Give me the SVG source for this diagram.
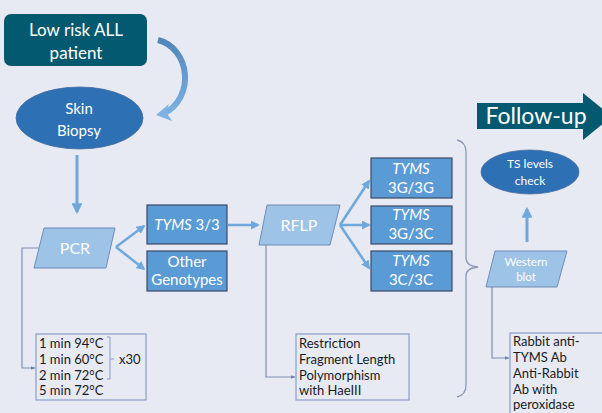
<svg xmlns="http://www.w3.org/2000/svg" width="602" height="413" viewBox="0 0 602 413">
<defs>
<marker id="ah" viewBox="0 0 10 10" refX="8" refY="5" markerWidth="3.6" markerHeight="3.6" orient="auto" markerUnits="strokeWidth"><path d="M0,0 L10,5 L0,10 z" fill="#6FA8DC"/></marker>
<marker id="ahs" viewBox="0 0 10 10" refX="9" refY="5" markerWidth="5" markerHeight="5" orient="auto" markerUnits="userSpaceOnUse"><path d="M0,1 L10,5 L0,9 z" fill="#6F82B0"/></marker>
<linearGradient id="cg" x1="0" y1="0" x2="0" y2="1"><stop offset="0" stop-color="#4F86BB"/><stop offset="1" stop-color="#7DB2E2"/></linearGradient>
</defs>
<style>
.bg{fill:#E7EAF3}
.t{font-family:Lato,"Open Sans","Liberation Sans",sans-serif;fill:#fff;text-anchor:middle}
.s{font-family:Lato,"Open Sans","Liberation Sans",sans-serif;fill:#1a1a1a;font-size:13px}
.box{fill:#5B9BD5;stroke:#3B4A66;stroke-width:1.2}
.par{fill:#9DC3E6;stroke:#6F8CB8;stroke-width:1}
.ell{fill:#2E70B4;stroke:#4A6FA0;stroke-width:0.8}
.arr{stroke:#6FA8DC;stroke-width:3;fill:none;marker-end:url(#ah)}
.ln{stroke:#7E8DB4;stroke-width:1.2;fill:none}
.nb{fill:none;stroke:#8C9CC8;stroke-width:1.2}
</style>
<rect class="bg" x="0" y="0" width="602" height="413"/>

<g id="connectors">
  <path d="M158,40 C190,48 196,98 163,114" stroke="url(#cg)" stroke-width="6" fill="none"/>
  <path d="M156,115 L169,104 L166,112 L172,121 z" fill="#7DB2E2"/>
  <line class="arr" x1="77" y1="155" x2="77" y2="212"/>
  <line class="arr" x1="116" y1="247" x2="144" y2="226" style="stroke-width:2.5"/>
  <line class="arr" x1="116" y1="247" x2="144" y2="269" style="stroke-width:2.5"/>
  <line class="arr" x1="228" y1="225" x2="258" y2="225" style="stroke-width:2.5"/>
  <line class="arr" x1="340" y1="225" x2="369" y2="181" style="stroke-width:2.5"/>
  <line class="arr" x1="340" y1="225" x2="369" y2="225" style="stroke-width:2.5"/>
  <line class="arr" x1="340" y1="225" x2="369" y2="268" style="stroke-width:2.5"/>
  <line class="arr" x1="527" y1="242" x2="527" y2="209"/>
  <path class="ln" d="M39,248 H22 V368 H35" marker-end="url(#ahs)"/>
  <path class="ln" d="M266,245 V377 H295" marker-end="url(#ahs)"/>
  <path class="ln" d="M492,287 V358 H509" marker-end="url(#ahs)"/>
  <path d="M457,140 Q466,142 466,152 V258 Q466,266 478,267 Q466,268 466,276 V385 Q466,395 457,397" fill="none" stroke="#8C98BA" stroke-width="1.3"/>
</g>

<g id="patient">
  <rect x="4" y="14" width="143" height="52" rx="7" fill="#03596F"/>
  <text class="t" x="76" y="36" font-size="17">Low risk ALL</text>
  <text class="t" x="76" y="59" font-size="17">patient</text>
</g>

<g id="skin-biopsy">
  <ellipse class="ell" cx="79.5" cy="118" rx="63.5" ry="31"/>
  <text class="t" x="79" y="114" font-size="15">Skin</text>
  <text class="t" x="79" y="136" font-size="15">Biopsy</text>
</g>

<g id="pcr">
  <polygon class="par" points="44,228 115,228 106,268 34,268"/>
  <text class="t" x="75" y="254" font-size="16">PCR</text>
</g>

<g id="pcr-note">
  <rect class="nb" x="36" y="334" width="110" height="66"/>
  <text class="s" x="39" y="348">1 min 94°C</text>
  <text class="s" x="39" y="364">1 min 60°C</text>
  <text class="s" x="39" y="380">2 min 72°C</text>
  <text class="s" x="39" y="395">5 min 72°C</text>
  <path d="M107,337 H110 V379 H107 M110,359 H114" fill="none" stroke="#8C9CC8" stroke-width="1"/>
  <text class="s" x="119" y="364">x30</text>
</g>

<g id="tyms33">
  <rect class="box" x="147" y="205" width="80" height="39"/>
  <text class="t" x="187" y="230" font-size="15"><tspan font-style="italic">TYMS</tspan> 3/3</text>
</g>

<g id="other">
  <rect class="box" x="147" y="251" width="80" height="40"/>
  <text class="t" x="187" y="267" font-size="15">Other</text>
  <text class="t" x="187" y="285" font-size="15">Genotypes</text>
</g>

<g id="rflp">
  <polygon class="par" points="267,205 340,205 330,245 259,245"/>
  <text class="t" x="299" y="231" font-size="16">RFLP</text>
</g>

<g id="rflp-note">
  <rect class="nb" x="296" y="334" width="113" height="66"/>
  <text class="s" x="299" y="348">Restriction</text>
  <text class="s" x="299" y="364">Fragment Length</text>
  <text class="s" x="299" y="380">Polymorphism</text>
  <text class="s" x="299" y="395">with HaeIII</text>
</g>

<g id="tyms-gg">
  <rect class="box" x="371" y="158" width="81" height="40"/>
  <text class="t" x="411" y="174" font-size="15" font-style="italic">TYMS</text>
  <text class="t" x="411" y="193" font-size="15">3G/3G</text>
</g>
<g id="tyms-gc">
  <rect class="box" x="371" y="206" width="81" height="38"/>
  <text class="t" x="411" y="220" font-size="15" font-style="italic">TYMS</text>
  <text class="t" x="411" y="239" font-size="15">3G/3C</text>
</g>
<g id="tyms-cc">
  <rect class="box" x="371" y="251" width="81" height="40"/>
  <text class="t" x="411" y="266" font-size="15" font-style="italic">TYMS</text>
  <text class="t" x="411" y="285" font-size="15">3C/3C</text>
</g>

<g id="follow-up">
  <polygon points="477,103 583,103 583,93 612,116.5 583,140 583,129 477,129" fill="#03596F"/>
  <text class="t" x="536" y="124" font-size="23">Follow-up</text>
</g>

<g id="ts-levels">
  <ellipse class="ell" cx="530" cy="172" rx="49" ry="22"/>
  <text class="t" x="530" y="168" font-size="12">TS levels</text>
  <text class="t" x="530" y="185" font-size="12">check</text>
</g>

<g id="western">
  <polygon class="par" points="495,251 567,251 557,287 486,287"/>
  <text class="t" x="526" y="266" font-size="11.5">Western</text>
  <text class="t" x="526" y="281" font-size="11.5">blot</text>
</g>

<g id="western-note">
  <rect class="nb" x="510" y="333" width="100" height="90"/>
  <text class="s" x="513" y="346">Rabbit anti-</text>
  <text class="s" x="513" y="362">TYMS Ab</text>
  <text class="s" x="513" y="378">Anti-Rabbit</text>
  <text class="s" x="513" y="394">Ab with</text>
  <text class="s" x="513" y="409">peroxidase</text>
</g>
</svg>
